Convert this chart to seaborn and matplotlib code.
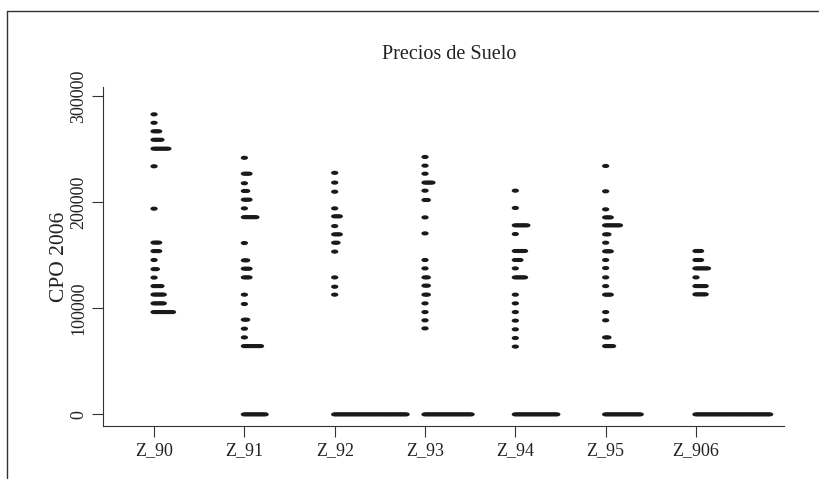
import numpy as np
import pandas as pd
import seaborn as sns
import matplotlib.pyplot as plt
from matplotlib.markers import MarkerStyle
from matplotlib.transforms import Affine2D
from matplotlib.lines import Line2D

# precios de suelo por zona (valor, cantidad de observaciones repetidas)
zonas = ['Z_90', 'Z_91', 'Z_92', 'Z_93', 'Z_94', 'Z_95', 'Z_906']

z90_val = [283000, 275000, 267000, 259000, 250600, 234000, 194000, 162000,
           154000, 145600, 137000, 129000, 121000, 113000, 104700, 96500]
z90_n = [1, 1, 3, 4, 7, 1, 1, 3, 3, 1, 2, 1, 4, 5, 5, 9]

z91_val = [242000, 227000, 218000, 210700, 202500, 194300, 186000, 161600, 145300,
           137400, 129200, 112900, 104100, 89300, 80800, 72600, 64400, 0]
z91_n = [1, 3, 1, 2, 3, 1, 6, 1, 2, 3, 3, 1, 1, 2, 1, 1, 8, 10]

z92_val = [227800, 218600, 210000, 194300, 186800, 177600, 169800, 161900,
           153500, 129200, 120400, 112900, 0]
z92_n = [1, 1, 1, 1, 3, 1, 3, 2, 1, 1, 1, 1, 32]

z93_val = [242800, 234600, 227000, 218600, 211000, 202200, 185800, 170700, 145600,
           137700, 129200, 121400, 112900, 104700, 96500, 88700, 81100, 0]
z93_n = [1, 1, 1, 4, 1, 2, 1, 1, 1, 1, 2, 2, 2, 1, 1, 1, 1, 21]

z94_val = [211000, 194700, 178300, 170100, 154100, 145600, 137700, 129200,
           112900, 104700, 96500, 88400, 80200, 72000, 63900, 0]
z94_n = [1, 1, 6, 1, 5, 3, 1, 5, 1, 1, 1, 1, 1, 1, 1, 19]

z95_val = [234300, 210400, 193400, 185800, 178300, 169800, 161900, 153800, 145600,
           138000, 129200, 121000, 112900, 96500, 88700, 72600, 64400, 0]
z95_n = [1, 1, 1, 3, 7, 2, 1, 3, 1, 1, 1, 1, 3, 1, 1, 2, 4, 16]

z906_val = [154100, 145600, 137700, 129200, 121000, 113200, 0]
z906_n = [3, 3, 6, 1, 5, 5, 33]

valores = [z90_val, z91_val, z92_val, z93_val, z94_val, z95_val, z906_val]
cantidades = [z90_n, z91_n, z92_n, z93_n, z94_n, z95_n, z906_n]

# apilado tipo stripchart(method='stack'): los repetidos se corren a la derecha
paso = 0.0255
filas = []
for i, (vals, ns) in enumerate(zip(valores, cantidades)):
    for v, n in zip(vals, ns):
        for k in range(n):
            filas.append({'x': i + k * paso, 'CPO 2006': v})
df = pd.DataFrame(filas)

sns.set_style('white')
plt.rcParams['font.family'] = ['Liberation Serif', 'DejaVu Serif']

fig = plt.figure(figsize=(8.19, 4.79), dpi=100)
ax = fig.add_axes([0.1258, 0.1106, 0.8315, 0.7078])

marca = MarkerStyle('o', transform=Affine2D().scale(1.75, 1.0))
sns.scatterplot(data=df, x='x', y='CPO 2006', ax=ax, marker=marca, s=9,
                color='#1a1a1a', edgecolor='none', linewidth=0)

ax.set_xlim(-0.565, 6.975)
ax.set_ylim(-11000, 308800)
ax.set_xticks(range(len(zonas)))
ax.set_xticklabels(zonas)
ax.set_yticks([0, 100000, 200000, 300000])
ax.set_yticklabels(['0', '100000', '200000', '300000'], rotation=90, va='center')
ax.tick_params(axis='both', direction='out', length=8, width=0.8, colors='#333333',
               labelsize=13, labelcolor='#222222', pad=3.5,
               bottom=True, left=True)

for lado in ['top', 'right']:
    ax.spines[lado].set_visible(False)
for lado in ['left', 'bottom']:
    ax.spines[lado].set_color('#333333')
    ax.spines[lado].set_linewidth(0.8)

ax.set_xlabel('')
ax.set_ylabel('CPO 2006', fontsize=15.5, color='#222222', labelpad=1)
fig.text(0.5485, 0.887, 'Precios de Suelo', ha='center', va='center',
         fontsize=14.5, color='#222222')

# marco exterior (solo arriba e izquierda)
fig.add_artist(Line2D([0.0085, 1.0], [0.977, 0.977], transform=fig.transFigure,
                      color='#333333', linewidth=1.0))
fig.add_artist(Line2D([0.0085, 0.0085], [0.977, 0.0], transform=fig.transFigure,
                      color='#333333', linewidth=1.0))

fig.savefig('out.png', dpi=100)
